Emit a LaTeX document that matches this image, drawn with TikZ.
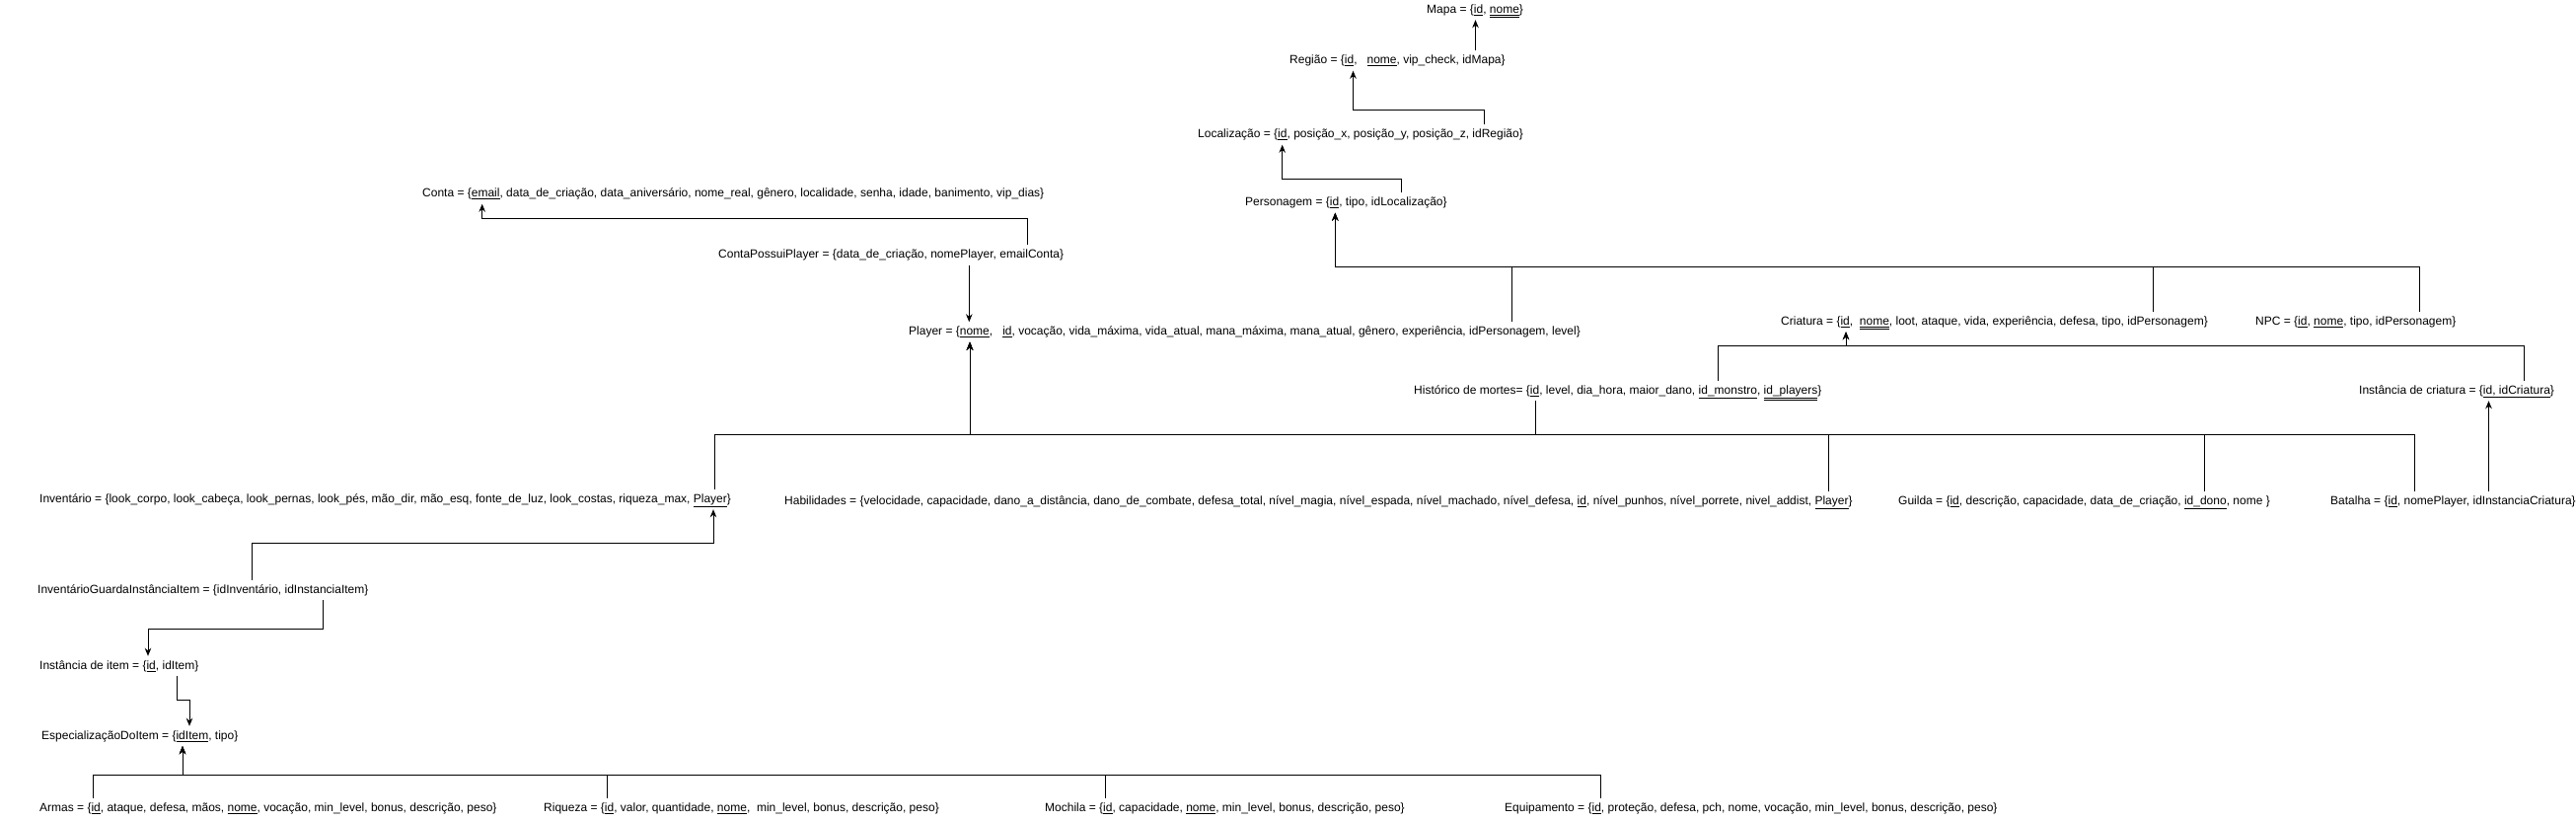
\documentclass[tikz,border=0pt]{standalone}
\usepackage{fontspec}
\setmainfont{Liberation Sans}
\usetikzlibrary{arrows.meta, positioning}
\newcommand{\pk}[1]{\underline{#1}}
\newcommand{\pkk}[1]{\underline{\underline{#1}}}

\begin{document}
\begin{tikzpicture}[
    x=1pt, y=-1pt,
    rel/.style={anchor=west, inner xsep=0pt, inner ysep=4.25pt, text height=9pt, text depth=2.5pt, font=\fontsize{12}{14}\selectfont},
    link/.style={line width=1pt},
    arrow/.style={link, -{Stealth[length=8pt, width=6.5pt, inset=2.5pt]}}
]
\useasboundingbox (0,0) rectangle (2611,832);

% Mapa, regiao, localizacao
\node[rel] (mapa) at (1446,10) {Mapa = \{\pk{id}, \pkk{nome}\}};
\node[rel] (regiao) at (1307,61.5) {Região = \{\pk{id},\ \ \ \pk{nome}, vip\_check, idMapa\}};
\node[rel] (local) at (1214,136.5) {Localização = \{\pk{id}, posição\_x, posição\_y, posição\_z, idRegião\}};
\node[rel] (pers) at (1262,205.5) {Personagem = \{\pk{id}, tipo, idLocalização\}};

% Conta e player
\node[rel] (conta) at (428,196.5) {Conta = \{\pk{email}, data\_de\_criação, data\_aniversário, nome\_real, gênero, localidade, senha, idade, banimento, vip\_dias\}};
\node[rel] (cpp) at (728,258.5) {ContaPossuiPlayer = \{data\_de\_criação, nomePlayer, emailConta\}};
\node[rel] (player) at (921,336.5) {Player = \{\pk{nome},\ \ \ \pk{id}, vocação, vida\_máxima, vida\_atual, mana\_máxima, mana\_atual, gênero, experiência, idPersonagem, level\}};

% Criaturas
\node[rel] (criatura) at (1805,326) {Criatura = \{\pk{id},\ \ \pkk{nome}, loot, ataque, vida, experiência, defesa, tipo, idPersonagem\}};
\node[rel] (npc) at (2286,326) {NPC = \{\pk{id}, \pk{nome}, tipo, idPersonagem\}};
\node[rel] (hist) at (1433,396) {Histórico de mortes= \{\pk{id}, level, dia\_hora, maior\_dano, \pk{id\_monstro}, \pkk{id\_players}\}};
\node[rel] (instcri) at (2391,396) {Instância de criatura = \{\pk{id, idCriatura}\}};

% Ligados ao player
\node[rel] (invent) at (40,506) {Inventário = \{look\_corpo, look\_cabeça, look\_pernas, look\_pés, mão\_dir, mão\_esq, fonte\_de\_luz, look\_costas, riqueza\_max, \pk{Player}\}};
\node[rel] (habil) at (795,508) {Habilidades = \{velocidade, capacidade, dano\_a\_distância, dano\_de\_combate, defesa\_total, nível\_magia, nível\_espada, nível\_machado, nível\_defesa, \pk{id}, nível\_punhos, nível\_porrete, nivel\_addist, \pk{Player}\}};
\node[rel] (guilda) at (1924,508) {Guilda = \{\pk{id}, descrição, capacidade, data\_de\_criação, \pk{id\_dono}, nome \}};
\node[rel] (batalha) at (2362,508) {Batalha = \{\pk{id}, nomePlayer, idInstanciaCriatura\}};

% Itens
\node[rel] (invguarda) at (38,598) {InventárioGuardaInstânciaItem = \{idInventário, idInstanciaItem\}};
\node[rel] (institem) at (40,675) {Instância de item = \{\pk{id}, idItem\}};
\node[rel] (espec) at (42,746) {EspecializaçãoDoItem = \{\pk{idItem}, tipo\}};
\node[rel] (armas) at (40,819) {Armas = \{\pk{id}, ataque, defesa, mãos, \pk{nome}, vocação, min\_level, bonus, descrição, peso\}};
\node[rel] (riqueza) at (551,819) {Riqueza = \{\pk{id}, valor, quantidade, \pk{nome},\ \ min\_level, bonus, descrição, peso\}};
\node[rel] (mochila) at (1059,819) {Mochila = \{\pk{id}, capacidade, \pk{nome}, min\_level, bonus, descrição, peso\}};
\node[rel] (equip) at (1525,819) {Equipamento = \{\pk{id}, proteção, defesa, pch, nome, vocação, min\_level, bonus, descrição, peso\}};

% Bends and hubs
\coordinate (bendRegiao) at (1371.5,111.7);
\coordinate (bendLocal) at (1299.7,181.7);
\coordinate (bendConta) at (488.7,221.7);
\coordinate (hubPersonagem) at (1353.3,270);
\coordinate (hubCriatura) at (1871,350);
\coordinate (hubPlayer) at (983,440.5);
\coordinate (bendInvent) at (723,550.7);
\coordinate (bendItem) at (150,637);
\coordinate (bendEspec) at (192,709);
\coordinate (hubEspec) at (185,785);

% Arrows
\draw[arrow] (1495.5,0 |- regiao.north) -- (1495.5,0 |- mapa.south);
\draw[arrow] (1504,0 |- local.north) |- (bendRegiao) -- (bendRegiao |- regiao.south);
\draw[arrow] (1420.6,0 |- pers.north) |- (bendLocal) -- (bendLocal |- local.south);
\draw[arrow] (1041.4,0 |- cpp.north) |- (bendConta) -- (bendConta |- conta.south);
\draw[arrow] (982.3,0 |- cpp.south) -- (982.3,0 |- player.north);

\draw[arrow] (1532.4,0 |- player.north) |- (hubPersonagem) -- (hubPersonagem |- pers.south);
\draw[arrow] (2182,0 |- criatura.north) |- (hubPersonagem) -- (hubPersonagem |- pers.south);
\draw[arrow] (2452.5,0 |- npc.north) |- (hubPersonagem) -- (hubPersonagem |- pers.south);

\draw[arrow] (1741,0 |- hist.north) |- (hubCriatura) -- (hubCriatura |- criatura.south);
\draw[arrow] (2558,0 |- instcri.north) |- (hubCriatura) -- (hubCriatura |- criatura.south);
\draw[arrow] (2522.5,0 |- batalha.north) -- (2522.5,0 |- instcri.south);

\draw[arrow] (724,0 |- invent.north) |- (hubPlayer) -- (hubPlayer |- player.south);
\draw[arrow] (1556,0 |- hist.south) |- (hubPlayer) -- (hubPlayer |- player.south);
\draw[arrow] (1853.7,0 |- habil.north) |- (hubPlayer) -- (hubPlayer |- player.south);
\draw[arrow] (2234.5,0 |- guilda.north) |- (hubPlayer) -- (hubPlayer |- player.south);
\draw[arrow] (2447.3,0 |- batalha.north) |- (hubPlayer) -- (hubPlayer |- player.south);

\draw[arrow] (255,0 |- invguarda.north) |- (bendInvent) -- (bendInvent |- invent.south);
\draw[arrow] (327,0 |- invguarda.south) |- (bendItem) -- (bendItem |- institem.north);
\draw[arrow] (179,0 |- institem.south) |- (bendEspec) -- (bendEspec |- espec.north);

\draw[arrow] (94,0 |- armas.north) |- (hubEspec) -- (hubEspec |- espec.south);
\draw[arrow] (615,0 |- riqueza.north) |- (hubEspec) -- (hubEspec |- espec.south);
\draw[arrow] (1120.5,0 |- mochila.north) |- (hubEspec) -- (hubEspec |- espec.south);
\draw[arrow] (1622,0 |- equip.north) |- (hubEspec) -- (hubEspec |- espec.south);

\end{tikzpicture}
\end{document}
